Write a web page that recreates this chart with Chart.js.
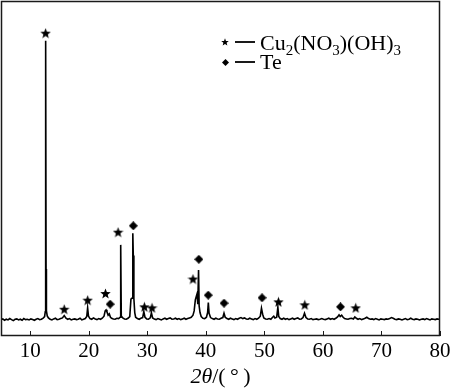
<!DOCTYPE html>
<html>
<head>
<meta charset="utf-8">
<script src="https://cdn.jsdelivr.net/npm/chart.js@4"></script>
<style>
  html, body { margin: 0; padding: 0; background: #fff; }
  canvas { display: block; }
</style>
</head>
<body>
<canvas id="xrd" width="450" height="389"></canvas>
<script>
// 2theta (deg) and intensity (a.u.)
const twoTheta = [
  5.0, 5.3, 5.6, 5.9, 6.2, 6.5, 6.8, 7.1, 7.4, 7.7, 8.0, 8.3, 8.6, 8.9, 9.2, 9.5, 9.8, 10.1, 10.4, 10.7,
  11.0, 11.3, 11.6, 11.9, 12.2, 12.45, 12.56, 12.6, 12.66, 12.7, 12.76, 12.9, 13.1, 13.4, 13.7, 14.0, 14.3, 14.6, 14.9, 15.2,
  15.5, 15.8, 16.1, 16.4, 16.7, 17.0, 17.3, 17.6, 17.9, 18.2, 18.5, 18.8, 19.1, 19.4, 19.65, 19.8, 19.95, 20.2, 20.5, 20.8,
  21.1, 21.4, 21.7, 22.0, 22.3, 22.6, 22.8, 22.95, 23.1, 23.3, 23.5, 23.7, 23.9, 24.2, 24.5, 24.8, 25.1, 25.35, 25.45, 25.55,
  25.8, 26.1, 26.4, 26.7, 27.0, 27.2, 27.4, 27.52, 27.6, 27.7, 27.85, 28.0, 28.3, 28.6, 28.9, 29.2, 29.4, 29.6, 29.9, 30.2,
  30.5, 30.7, 30.9, 31.2, 31.5, 31.8, 32.1, 32.4, 32.7, 33.0, 33.3, 33.6, 33.9, 34.2, 34.5, 34.8, 35.1, 35.4, 35.7, 36.0,
  36.3, 36.6, 36.9, 37.2, 37.5, 37.8, 38.0, 38.2, 38.35, 38.5, 38.62, 38.75, 38.85, 39.0, 39.2, 39.5, 39.8, 40.1, 40.3, 40.42,
  40.55, 40.8, 41.1, 41.4, 41.7, 42.0, 42.3, 42.6, 42.9, 43.1, 43.3, 43.6, 43.9, 44.2, 44.5, 44.8, 45.1, 45.4, 45.7, 46.0,
  46.3, 46.6, 46.9, 47.2, 47.5, 47.8, 48.1, 48.4, 48.7, 49.0, 49.3, 49.5, 49.7, 49.9, 50.2, 50.5, 50.8, 51.1, 51.4, 51.6,
  51.8, 52.1, 52.3, 52.45, 52.7, 53.0, 53.3, 53.6, 53.9, 54.2, 54.5, 54.8, 55.1, 55.4, 55.7, 56.0, 56.3, 56.6, 56.85, 57.1,
  57.4, 57.7, 58.0, 58.3, 58.6, 58.9, 59.2, 59.5, 59.8, 60.1, 60.4, 60.7, 61.0, 61.3, 61.6, 61.9, 62.2, 62.5, 62.75, 62.95,
  63.2, 63.45, 63.7, 64.0, 64.3, 64.6, 64.9, 65.2, 65.45, 65.7, 66.0, 66.3, 66.6, 66.9, 67.2, 67.5, 67.8, 68.1, 68.4, 68.7,
  69.0, 69.3, 69.6, 69.9, 70.2, 70.5, 70.8, 71.1, 71.4, 71.7, 72.0, 72.3, 72.6, 72.9, 73.2, 73.5, 73.8, 74.1, 74.4, 74.7,
  75.0, 75.3, 75.6, 75.9, 76.2, 76.5, 76.8, 77.1, 77.4, 77.7, 78.0, 78.3, 78.6, 78.9, 79.2, 79.5, 79.8, 80.0
];
const intensity = [
  4.9, 5.1, 4.7, 5.0, 4.8, 5.2, 4.9, 4.6, 5.0, 5.1, 4.8, 5.0, 4.7, 5.2, 4.9, 5.0, 4.8, 5.1, 4.9, 4.7,
  5.0, 5.2, 4.9, 5.0, 5.3, 5.8, 7.2, 20.3, 88.1, 20.0, 7.5, 6.0, 5.4, 5.0, 4.8, 5.1, 5.3, 4.9, 5.0, 5.2,
  5.4, 6.1, 5.3, 5.0, 5.2, 4.8, 5.0, 5.1, 4.9, 5.0, 5.3, 4.8, 5.0, 5.2, 5.8, 8.4, 5.9, 5.2, 5.0, 5.4,
  5.1, 4.9, 5.2, 5.0, 5.3, 5.9, 7.5, 7.8, 7.2, 6.2, 6.6, 5.6, 5.3, 5.1, 5.0, 5.3, 5.2, 5.6, 27.2, 6.0,
  5.4, 5.1, 5.0, 5.3, 5.8, 11.0, 11.3, 30.7, 24.0, 11.2, 7.0, 5.6, 5.2, 5.0, 5.3, 5.5, 7.3, 5.6, 5.1, 5.0,
  5.4, 6.9, 5.4, 5.1, 4.9, 5.2, 5.0, 4.8, 5.1, 5.3, 5.0, 5.2, 5.4, 5.0, 5.1, 5.3, 5.0, 5.2, 4.9, 5.1,
  5.3, 5.0, 5.2, 5.4, 5.6, 6.2, 7.5, 10.8, 11.7, 12.6, 9.5, 19.7, 9.0, 7.0, 5.8, 5.3, 5.2, 5.6, 7.0, 10.0,
  6.8, 5.5, 5.2, 5.0, 5.3, 5.1, 5.0, 5.3, 5.5, 6.8, 5.6, 5.2, 5.0, 5.3, 5.1, 4.9, 5.2, 5.0, 5.3, 5.5,
  5.2, 5.4, 5.1, 5.0, 5.3, 5.1, 4.9, 5.2, 5.0, 5.3, 5.9, 8.3, 6.5, 5.4, 5.1, 5.0, 5.2, 5.0, 5.6, 5.9,
  5.4, 5.6, 8.6, 5.8, 5.2, 5.0, 5.3, 5.0, 5.2, 4.9, 5.1, 5.3, 5.0, 5.2, 5.4, 5.0, 5.1, 5.5, 6.8, 5.5,
  5.1, 5.0, 5.2, 4.9, 5.0, 5.1, 4.9, 5.0, 5.2, 5.0, 4.9, 5.1, 5.3, 5.0, 5.2, 5.0, 5.3, 5.7, 6.3, 5.8,
  6.2, 5.6, 5.2, 5.1, 5.0, 5.2, 5.3, 5.1, 5.7, 5.3, 5.0, 5.2, 4.9, 5.1, 5.3, 5.6, 5.2, 5.0, 5.1, 4.9,
  5.2, 5.0, 4.8, 5.1, 5.0, 4.9, 5.1, 5.0, 5.2, 5.5, 5.3, 5.0, 4.9, 5.1, 5.0, 4.8, 5.0, 5.2, 4.9, 5.0,
  5.3, 5.0, 4.9, 5.1, 5.0, 4.8, 5.0, 5.1, 4.9, 5.2, 5.0, 4.8, 5.1, 5.0, 4.9, 5.1, 5.0, 4.9
];

// phase markers (position, height of the symbol)
const cuPeaksX = [12.62, 15.8, 19.8, 22.85, 25.0, 29.5, 30.8, 37.8, 52.4, 56.9, 65.6];
const cuPeaksY = [90.4, 8.0, 10.7, 12.7, 31.0, 8.7, 8.4, 17.0, 10.2, 9.3, 8.4];
const tePeaksX = [23.65, 27.6, 38.8, 40.4, 43.1, 49.6, 63.0];
const tePeaksY = [9.5, 32.9, 22.9, 12.2, 9.8, 11.4, 8.7];

const xTicks = [10, 20, 30, 40, 50, 60, 70, 80];

const serif = "'Liberation Serif', 'Times New Roman', serif";

function starImg(size) {
  const c = document.createElement('canvas');
  c.width = size; c.height = size;
  const g = c.getContext('2d');
  const r = size / 2, ri = r * 0.42;
  g.beginPath();
  for (let i = 0; i < 10; i++) {
    const a = -Math.PI / 2 + i * Math.PI / 5;
    const rr = i % 2 ? ri : r;
    g.lineTo(r + rr * Math.cos(a), r + rr * Math.sin(a) + size * 0.04);
  }
  g.closePath();
  g.fillStyle = '#000';
  g.fill();
  return c;
}

function diamondImg(size) {
  const c = document.createElement('canvas');
  c.width = size; c.height = size;
  const g = c.getContext('2d');
  const r = size / 2;
  g.beginPath();
  g.moveTo(r, 0); g.lineTo(size, r); g.lineTo(r, size); g.lineTo(0, r);
  g.closePath();
  g.fillStyle = '#000';
  g.fill();
  return c;
}

const rahmen = {
  id: 'rahmen',
  afterDraw(chart) {
    const ctx = chart.ctx;
    const a = chart.chartArea;
    const sx = chart.scales.x;
    ctx.save();
    ctx.strokeStyle = '#1a1a1a';
    ctx.lineWidth = 1.5;
    ctx.strokeRect(a.left + 0.5, a.top + 0.5, a.right - a.left - 1, a.bottom - a.top - 1);
    // inward ticks
    ctx.lineWidth = 1;
    xTicks.forEach(v => {
      const px = Math.round(sx.getPixelForValue(v)) + 0.5;
      ctx.beginPath();
      ctx.moveTo(px, a.bottom);
      ctx.lineTo(px, a.bottom - 5);
      ctx.stroke();
    });

    // axis title: 2θ/(°)
    ctx.fillStyle = '#000';
    ctx.textBaseline = 'middle';
    ctx.textAlign = 'left';
    const fIt = 'italic 22px ' + serif;
    const fUp = '22px ' + serif;
    ctx.font = fIt;
    const w1 = ctx.measureText('2\u03b8').width;
    ctx.font = fUp;
    const rest = '/(\u2009\u00b0\u2009)';
    const w2 = ctx.measureText(rest).width;
    let tx = (a.left + a.right) / 2 - (w1 + w2) / 2;
    const ty = 377;
    ctx.font = fIt;
    ctx.fillText('2\u03b8', tx, ty);
    ctx.font = fUp;
    ctx.fillText(rest, tx + w1, ty);

    // legend
    ctx.textBaseline = 'alphabetic';
    ctx.drawImage(starImg(8), 221, 38);
    ctx.drawImage(diamondImg(7), 222, 59);
    ctx.lineWidth = 2;
    ctx.beginPath();
    ctx.moveTo(235, 42); ctx.lineTo(255, 42);
    ctx.moveTo(235, 62); ctx.lineTo(255, 62);
    ctx.stroke();
    const parts = [['Cu', 0], ['2', 1], ['(NO', 0], ['3', 1], [')(OH)', 0], ['3', 1]];
    let lx = 260;
    parts.forEach(([t, sub]) => {
      ctx.font = (sub ? '15px ' : '22px ') + serif;
      ctx.fillText(t, lx, sub ? 55 : 50);
      lx += ctx.measureText(t).width;
    });
    ctx.font = '22px ' + serif;
    ctx.fillText('Te', 260, 69);
    ctx.restore();
  }
};

new Chart(document.getElementById('xrd'), {
  type: 'scatter',
  data: {
    datasets: [
      {
        data: twoTheta.map((t, i) => ({ x: t, y: intensity[i] })),
        showLine: true,
        borderColor: '#000',
        borderWidth: 1.6,
        pointRadius: 0,
        tension: 0
      },
      {
        data: cuPeaksX.map((t, i) => ({ x: t, y: cuPeaksY[i] })),
        pointStyle: starImg(11),
        pointRadius: 5
      },
      {
        data: tePeaksX.map((t, i) => ({ x: t, y: tePeaksY[i] })),
        pointStyle: diamondImg(9),
        pointRadius: 5
      }
    ]
  },
  options: {
    responsive: false,
    animation: false,
    devicePixelRatio: 1,
    layout: { autoPadding: false, padding: { left: 1, top: 1, right: 10, bottom: 22 } },
    plugins: { legend: { display: false }, tooltip: { enabled: false } },
    scales: {
      x: {
        type: 'linear',
        min: 5,
        max: 80,
        afterBuildTicks: s => { s.ticks = xTicks.map(v => ({ value: v })); },
        afterFit: s => { s.paddingLeft = 0; s.paddingRight = 0; },
        grid: { display: false, drawTicks: false },
        border: { display: false },
        ticks: {
          color: '#000',
          padding: 5,
          maxRotation: 0,
          autoSkip: false,
          font: { family: serif, size: 21, lineHeight: 1 }
        }
      },
      y: {
        display: false,
        min: 0,
        max: 100
      }
    }
  },
  plugins: [rahmen]
});
</script>
</body>
</html>
